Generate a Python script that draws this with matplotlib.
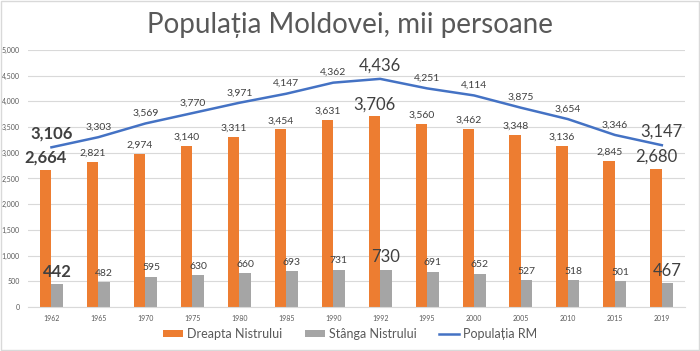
import numpy as np
import matplotlib.pyplot as plt
from matplotlib.ticker import FuncFormatter

plt.rcParams["font.family"] = ["Lato", "DejaVu Sans"]

years = ["1962", "1965", "1970", "1975", "1980", "1985", "1990",
         "1992", "1995", "2000", "2005", "2010", "2015", "2019"]
dreapta = [2664, 2821, 2974, 3140, 3311, 3454, 3631,
           3706, 3560, 3462, 3348, 3136, 2845, 2680]
stanga = [442, 482, 595, 630, 660, 693, 731,
          730, 691, 652, 527, 518, 501, 467]
total = [3106, 3303, 3569, 3770, 3971, 4147, 4362,
         4436, 4251, 4114, 3875, 3654, 3346, 3147]

ORANGE = "#ed7d31"
GRAY = "#a5a5a5"
BLUE = "#4472c4"
TXT = "#404040"

x = np.arange(len(years))
w = 0.245

fig = plt.figure(figsize=(7, 3.51), dpi=100)
ax = fig.add_axes([0.04, 0.125, 0.939, 0.733])

b1 = ax.bar(x - w / 2, dreapta, w, color=ORANGE, label="Dreapta Nistrului", zorder=2)
b2 = ax.bar(x + w / 2, stanga, w, color=GRAY, label="Stânga Nistrului", zorder=2)
l1, = ax.plot(x, total, color=BLUE, lw=1.8, label="Populația RM", zorder=3)

ax.set_xlim(-0.5, 13.5)
ax.set_ylim(0, 5000)
ax.set_yticks(range(0, 5001, 500))
ax.yaxis.set_major_formatter(FuncFormatter(lambda v, p: f"{int(v):,}"))
ax.set_xticks(x)
ax.set_xticklabels(years)
ax.tick_params(axis="both", length=0, labelsize=5, labelcolor="#595959", pad=6)
ax.grid(axis="y", color="#d9d9d9", lw=0.8, zorder=0)
for s in ["top", "right", "left"]:
    ax.spines[s].set_visible(False)
ax.spines["bottom"].set_color("#d9d9d9")

# label styling: first point bold/large, 1992 and 2019 large
def style(i):
    if i == 0:
        return dict(fontsize=12, fontweight="bold")
    if i in (7, 13):
        return dict(fontsize=12)
    return dict(fontsize=7.5)

for i in range(len(years)):
    st = style(i)
    ax.annotate(f"{total[i]:,}", (x[i], total[i]), xytext=(0, 4),
                textcoords="offset points", ha="center", va="bottom",
                color=TXT, **st)
    ax.annotate(f"{dreapta[i]:,}", (x[i] - w / 2, dreapta[i]),
                xytext=(0, 3), textcoords="offset points", ha="center",
                va="bottom", color=TXT, **st)
    ax.annotate(f"{stanga[i]:,}", (x[i] + w / 2, stanga[i]),
                xytext=(0, 3), textcoords="offset points", ha="center",
                va="bottom", color=TXT, **st)

fig.suptitle("Populația Moldovei, mii persoane", y=0.965, fontsize=20,
             color="#595959")

leg = fig.legend([b1, b2, l1],
                 ["Dreapta Nistrului", "Stânga Nistrului", "Populația RM"],
                 loc="lower center", bbox_to_anchor=(0.5, 0.0), ncol=3,
                 frameon=False, fontsize=9, handlelength=1.6,
                 handleheight=0.5, handletextpad=0.3, columnspacing=1.8)
for t in leg.get_texts():
    t.set_color("#595959")

fig.patches.append(plt.Rectangle((0.002, 0.003), 0.996, 0.994,
                                 transform=fig.transFigure, fill=False,
                                 edgecolor="#d9d9d9", lw=1))

fig.savefig("out.png", dpi=100)
